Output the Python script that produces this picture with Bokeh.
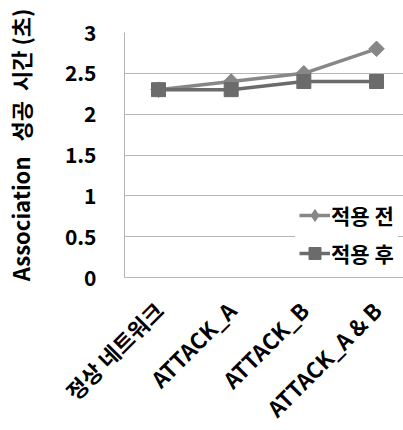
import math
from bokeh.plotting import figure
from bokeh.models import Range1d, FixedTicker, NumeralTickFormatter, Legend, LegendItem, ColumnDataSource
from bokeh.embed import file_html
from bokeh.resources import INLINE

categories = ["정상 네트워크", "ATTACK_A", "ATTACK_B", "ATTACK_A & B"]
before_vals = [2.3, 2.4, 2.5, 2.8]
after_vals = [2.3, 2.3, 2.4, 2.4]
y_ticks = [0, 0.5, 1, 1.5, 2, 2.5, 3]
series_names = ["적용 전", "적용 후"]
NB = "\u00a0"
y_title = NB * 4 + "Association" + NB * 3 + "성공" + NB * 2 + "시간" + NB + "(초)"

FONT = "Noto Sans CJK KR"
x_idx = list(range(len(categories)))

p = figure(frame_width=284, frame_height=245, output_backend="svg", toolbar_location=None,
           x_range=Range1d(-0.468, 3.44), y_range=Range1d(0, 3),
           min_border_left=111, min_border_top=32, min_border_bottom=137, min_border_right=0)
p.outline_line_color = None
p.background_fill_color = "white"

src_b = ColumnDataSource(dict(x=x_idx, y=before_vals))
src_a = ColumnDataSource(dict(x=x_idx, y=after_vals))

c_b = "#878787"
c_a = "#6b6b6b"
lb = p.line("x", "y", source=src_b, line_color=c_b, line_width=3.5)
mb_leg = p.scatter("x", "y", source=src_b, marker="diamond", size=14,
                   fill_color=c_b, line_color=c_b)
mb = p.scatter("x", "y", source=src_b, marker="square", angle=math.pi / 4, size=11,
               fill_color=c_b, line_color=c_b)
la = p.line("x", "y", source=src_a, line_color=c_a, line_width=3.5)
ma = p.scatter("x", "y", source=src_a, marker="square", size=14, fill_color=c_a, line_color=c_a)

legend = Legend(items=[LegendItem(label=series_names[0], renderers=[lb, mb_leg]),
                       LegendItem(label=series_names[1], renderers=[la, ma])],
                location=(171, 5), border_line_alpha=0, background_fill_alpha=1,
                background_fill_color="white", glyph_width=31, glyph_height=30,
                label_height=30, spacing=8, padding=4, label_standoff=1,
                label_text_font=FONT, label_text_font_style="bold", label_text_font_size="21px",
                label_text_color="black", margin=0)
p.add_layout(legend, "center")

# axes
p.xaxis.ticker = FixedTicker(ticks=x_idx)
p.xaxis.major_label_overrides = {i: c for i, c in enumerate(categories)}
p.xaxis.major_label_orientation = math.pi / 4
p.xaxis.major_tick_line_color = None
p.xaxis.minor_tick_line_color = None
p.xaxis.axis_line_color = "#b5b5b5"
p.xaxis.major_label_text_font = FONT
p.xaxis.major_label_text_font_style = "bold"
p.xaxis.major_label_text_font_size = "22px"
p.xaxis.major_label_text_color = "black"
p.xaxis.major_label_standoff = 22

p.yaxis.ticker = FixedTicker(ticks=y_ticks)
p.yaxis.formatter = NumeralTickFormatter(format="0.[0]")
p.yaxis.major_tick_line_color = None
p.yaxis.minor_tick_line_color = None
p.yaxis.axis_line_color = "#b5b5b5"
p.yaxis.major_label_text_font = FONT
p.yaxis.major_label_text_font_style = "bold"
p.yaxis.major_label_text_font_size = "21px"
p.yaxis.major_label_text_color = "black"
p.yaxis.major_label_standoff = 22
p.yaxis.axis_label = y_title
p.yaxis.axis_label_text_font = FONT
p.yaxis.axis_label_text_font_style = "bold"
p.yaxis.axis_label_text_font_size = "22px"
p.yaxis.axis_label_text_color = "black"
p.yaxis.axis_label_standoff = 26

p.xgrid.grid_line_color = None
p.ygrid.ticker = FixedTicker(ticks=y_ticks)
p.ygrid.grid_line_color = "#b5b5b5"
p.ygrid.grid_line_width = 1

open("out.html", "w").write(file_html(p, INLINE))
